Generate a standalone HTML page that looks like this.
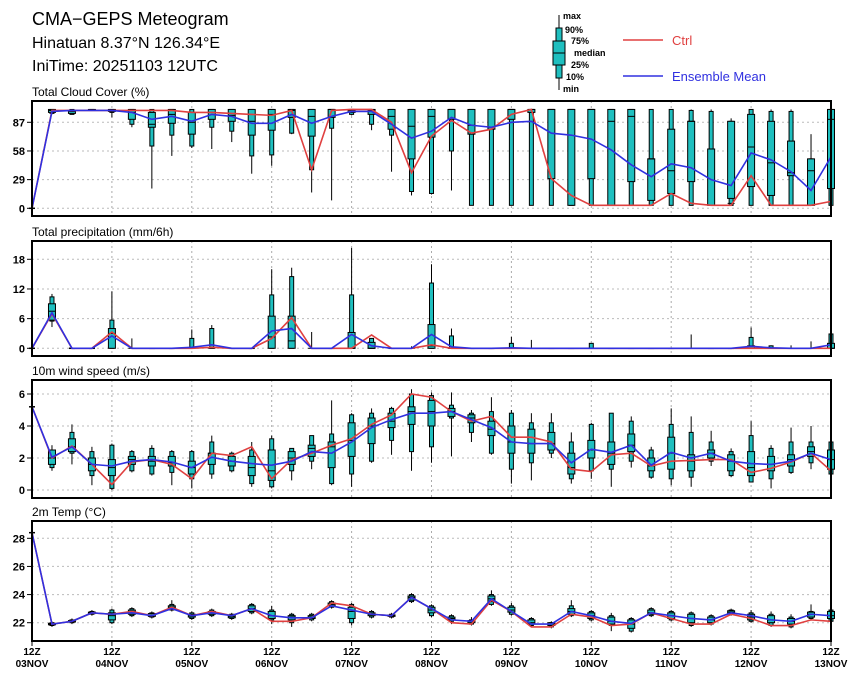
<!DOCTYPE html>
<html><head><meta charset="utf-8">
<style>
body{margin:0;background:#fff;}
svg text{font-family:"Liberation Sans",sans-serif;}
</style></head>
<body>
<svg id="c" width="860" height="678" viewBox="0 0 860 678" xmlns="http://www.w3.org/2000/svg">
<text x="32" y="25" font-size="18">CMA−GEPS Meteogram</text>
<text x="32" y="48" font-size="16">Hinatuan 8.37°N 126.34°E</text>
<text x="32" y="71" font-size="16">IniTime: 20251103 12UTC</text>
<g font-size="9" font-weight="bold">
<line x1="559" y1="15" x2="559" y2="90" stroke="#000"/>
<rect x="556" y="28" width="6" height="50" fill="#1fbfbf" stroke="#000"/>
<rect x="553" y="41" width="12" height="24" fill="#1fbfbf" stroke="#000"/>
<line x1="553" y1="53" x2="565" y2="53" stroke="#000"/>
<text x="563" y="19">max</text><text x="565" y="33">90%</text><text x="571" y="44">75%</text>
<text x="574" y="56">median</text><text x="571" y="68">25%</text><text x="566" y="80">10%</text><text x="563" y="92">min</text>
<line x1="623" y1="40" x2="663" y2="40" stroke="#e04040" stroke-width="1.5"/>
<text x="672" y="45" font-size="13" font-weight="normal" fill="#e04040">Ctrl</text>
<line x1="623" y1="76" x2="663" y2="76" stroke="#3030e0" stroke-width="1.5"/>
<text x="672" y="81" font-size="13" font-weight="normal" fill="#3030e0">Ensemble Mean</text>
</g>
</svg>
<script>
// Cloud cover (%)
const cMin=[0,95,95,99,92,82,20,53,61,60,67,35,43,75,16,8,94,79,37,13,14,18,3,3,3,3,3,3,3,3,3,3,3,3,3,3,3,3,3,3,3];
const cP10=[0,96,95,99,97,85,63,74,63,82,78,53,54,76,39,81,95,85,74,17,15,58,3,3,3,3,3,3,3,3,3,3,3,3,3,3,3,3,3,3,3];
const cP25=[0,97,96,99,98,90,82,86,75,90,88,74,79,92,73,92,97,95,80,50,72,90,75,80,90,97,30,3,30,3,27,8,15,27,3,10,22,13,33,3,20];
const cMed=[0,99,98,99,99,97,85,95,87,97,94,88,95,99,93,100,99,99,93,83,93,100,84,82,100,100,100,100,100,88,93,50,38,88,60,5,62,46,36,38,90];
const cP75=[0,100,99,100,100,100,97,100,97,100,100,100,100,100,100,100,100,100,100,100,100,100,100,100,100,100,100,100,100,100,100,50,80,88,60,88,95,88,68,50,100];
const cP90=[0,100,100,100,100,100,100,100,100,100,100,100,100,100,100,100,100,100,100,100,100,100,100,100,100,100,100,100,100,100,100,100,100,99,98,88,100,98,98,50,100];
const cMax=[0,100,100,100,100,100,100,100,100,100,100,100,100,100,100,100,100,100,100,100,100,100,100,100,100,100,100,100,100,100,100,100,100,100,100,91,100,100,100,75,100];
const cCtrl=[0,99,99,99,99,99,99,99,97,97,96,95,94,99,39,99,100,100,87,36,73,89,76,80,95,100,30,13,3,3,3,3,15,5,3,3,33,3,3,3,7];
const cEns=[0,98,99,99,99,97,90,93,88,95,93,86,86,95,86,93,98,98,85,71,78,92,84,82,87,88,76,74,70,59,44,32,45,41,29,23,56,49,37,18,52];
const cTicks=[0,29,58,87];
// Precipitation (mm/6h)
const pMin=[0,4.3,0,0,0,0,0,0,0,0,0,0,0,0,0,0,0,0,0,0,0,0,0,0,0,0,0,0,0,0,0,0,0,0,0,0,0,0,0,0,0];
const pP10=[0,5.5,0,0,0,0,0,0,0,0,0,0,0,0,0,0,0,0,0,0,0,0,0,0,0,0,0,0,0,0,0,0,0,0,0,0,0,0,0,0,0];
const pP25=[0,5.7,0,0,0,0,0,0,0,0,0,0,0,0,0,0,0,0,0,0,0,0,0,0,0,0,0,0,0,0,0,0,0,0,0,0,0,0,0,0,0];
const pMed=[0,7.5,0,0,3,0,0,0,0,0,0,0,2.3,1.5,0,0,0,0,0,0,0.5,0,0,0,0,0,0,0,0,0,0,0,0,0,0,0,0,0,0,0,0];
const pP75=[0,9,0,0,4,0,0,0,0,0,0,0,6.5,6.5,0,0,3.2,1.2,0,0,4.8,0,0,0,0,0,0,0,0,0,0,0,0,0,0,0,0.5,0,0,0,1];
const pP90=[0,10.4,0,0,5.7,0,0,0,2,4,0,0,10.8,14.5,0,0,10.8,2,0,0,13.2,2.5,0,0,1,0,0,0,1,0,0,0,0,0,0,0,2.2,0.5,0,0,2.9];
const pMax=[0,11,0,0,11.5,2,0,0,3.8,4.7,0,0,16,16.3,3.3,0,20.3,2,0,0.4,17,4,0,0,2.3,1.7,0,0,1,0,0,0,0,2.8,0,0,4.2,0.6,0.6,1.4,2.9];
const pCtrl=[0,7,0,0,3.3,0,0,0,0,0.2,0,0,2,6.2,0,0,0,2.7,0,0,0.7,0,0,0,0,0,0,0,0,0,0,0,0,0,0,0,0,0,0,0,0];
const pEns=[0,7.2,0,0,2.5,0,0,0,0.2,0.7,0,0,3.5,4,0,0,2.8,0.5,0,0,2.8,0.3,0,0,0.1,0,0,0,0,0,0,0,0,0,0,0,0.4,0.1,0,0,0.7];
const pTicks=[0,6,12,18];
// Wind (m/s)
const wMin=[5.2,1.2,1.6,0.3,0,1.1,0.9,0.3,0.1,0.7,1.1,0.2,0.1,0.6,1.3,0.3,0.2,1.7,2.2,1.2,1.7,2.1,3.0,2.2,0.4,0.6,2.0,0.4,0.7,0.2,1.4,0.7,0.3,0.2,1.5,0.8,0.5,0.1,1.0,1.3,1.0];
const wP10=[5.2,1.4,2.3,0.9,0.1,1.2,1.0,1.1,0.7,1.0,1.2,0.4,0.2,1.2,1.8,0.4,1.0,1.8,3.1,2.4,2.7,4.5,3.6,2.3,1.3,1.7,2.3,0.7,1.2,1.3,1.8,0.8,0.7,0.8,1.8,0.9,0.5,0.7,1.1,1.7,1.0];
const wP25=[5.2,1.6,2.4,1.2,0.9,1.6,1.5,1.5,1.0,1.6,1.5,0.9,0.6,1.6,2.1,1.4,2.1,2.9,3.9,4.1,4.0,4.6,4.2,3.4,2.3,2.3,2.5,1.0,2.0,1.6,2.4,1.2,1.3,1.2,2.0,1.2,0.9,1.2,1.5,2.1,1.3];
const wMed=[5.2,2.0,2.7,1.6,1.4,1.9,1.8,1.7,1.4,2.3,1.8,1.4,1.2,2.0,2.6,2.7,3.1,4.0,4.3,4.9,4.9,4.9,4.5,3.8,3.0,2.9,2.9,1.4,2.5,2.3,2.8,1.5,2.3,1.8,2.3,1.8,1.4,1.6,1.9,2.4,1.9];
const wP75=[5.2,2.5,3.2,2.0,1.9,2.1,2.1,2.1,1.8,2.3,2.1,2.1,2.5,2.4,2.8,3.0,4.2,4.5,4.8,5.2,5.6,5.1,4.7,4.3,4.0,3.8,3.6,2.3,3.1,3.0,3.5,2.0,3.3,2.2,2.5,2.2,2.4,2.1,2.2,2.7,2.5];
const wP90=[5.2,2.5,3.6,2.4,2.8,2.4,2.6,2.4,2.4,3.0,2.3,2.5,3.2,2.6,3.4,3.5,4.7,4.8,5.1,6.0,5.9,5.3,4.8,4.9,4.8,4.2,4.2,3.0,4.1,4.8,4.3,2.5,4.1,3.6,3.0,2.4,3.4,2.6,3.0,3.0,3.0];
const wMax=[5.2,2.8,4.1,2.7,2.9,2.5,2.8,2.5,2.5,3.4,2.4,3.0,3.4,2.6,3.4,5.6,4.8,5.1,5.2,6.3,6.1,6.1,5.0,5.8,5.0,4.8,4.8,3.6,4.2,4.8,4.6,2.7,5.1,4.6,3.7,2.6,4.3,2.8,3.9,4.0,3.0];
const wCtrl=[5.2,2.0,2.75,1.6,0.35,1.75,1.9,1.6,0.7,2.3,2.15,2.7,0.7,1.9,2.3,2.8,3.2,4.1,4.7,6.0,5.8,4.9,4.3,4.6,3.3,3.3,3.0,1.3,1.15,2.2,2.3,1.5,1.8,1.85,1.9,1.9,1.1,1.35,1.75,2.3,1.2];
const wEns=[5.2,2.05,2.7,1.6,1.5,1.8,1.9,1.75,1.4,2.05,1.8,1.65,1.55,1.8,2.4,2.3,3.0,3.9,4.4,4.8,4.8,4.9,4.4,3.9,3.0,2.9,2.9,1.7,2.55,2.35,2.8,1.55,2.35,2.0,2.3,1.8,1.65,1.6,1.8,2.3,1.9];
const wTicks=[0,2,4,6];
// 2m temperature (°C)
const tMin=[28.4,21.7,21.9,22.5,21.9,22.4,22.3,22.8,22.2,22.4,22.2,22.6,21.9,21.7,22.1,23.0,21.8,22.3,22.3,23.4,22.4,21.9,21.8,23.2,22.5,21.7,21.6,22.4,22.1,21.4,21.3,22.4,22.1,21.7,21.8,22.5,22.0,21.7,21.6,22.2,22.0];
const tP10=[28.4,21.8,22.0,22.6,22.0,22.5,22.4,22.9,22.3,22.5,22.3,22.7,22.2,22.0,22.2,23.1,22.0,22.4,22.4,23.5,22.5,22.1,21.9,23.3,22.6,21.8,21.7,22.5,22.2,21.8,21.4,22.5,22.2,21.8,21.9,22.6,22.1,21.8,21.7,22.3,22.1];
const tP25=[28.4,21.85,22.05,22.65,22.2,22.6,22.45,23.0,22.4,22.6,22.35,22.8,22.3,22.2,22.3,23.2,22.3,22.5,22.45,23.6,22.7,22.2,22.0,23.5,22.75,21.9,21.8,22.6,22.3,21.9,21.6,22.6,22.3,22.0,22.0,22.65,22.2,22.0,21.9,22.4,22.3];
const tMed=[28.4,21.9,22.1,22.7,22.5,22.8,22.55,23.1,22.5,22.7,22.45,23.0,22.5,22.4,22.4,23.3,22.8,22.6,22.5,23.8,22.9,22.3,22.1,23.7,22.9,22.0,21.9,22.8,22.5,22.1,21.9,22.7,22.5,22.3,22.2,22.75,22.4,22.2,22.1,22.6,22.5];
const tP75=[28.4,21.95,22.15,22.75,22.7,22.9,22.65,23.2,22.6,22.8,22.55,23.2,22.8,22.5,22.5,23.4,23.1,22.7,22.55,23.9,23.1,22.4,22.15,23.9,23.1,22.2,22.0,23.0,22.7,22.4,22.2,22.9,22.7,22.6,22.4,22.85,22.6,22.5,22.3,22.75,22.8];
const tP90=[28.4,22.0,22.2,22.8,22.9,23.0,22.7,23.3,22.7,22.9,22.6,23.3,22.9,22.6,22.6,23.5,23.3,22.8,22.6,24.0,23.2,22.5,22.2,24.0,23.2,22.3,22.0,23.2,22.8,22.5,22.3,23.0,22.8,22.7,22.5,22.9,22.7,22.6,22.4,22.8,22.9];
const tMax=[28.4,22.1,22.3,22.9,23.0,23.1,22.8,23.6,22.8,23.0,22.7,23.4,23.2,22.7,22.7,23.6,23.4,22.9,22.7,24.1,23.3,22.6,22.4,24.3,23.4,22.4,22.1,23.6,22.9,22.7,22.4,23.1,22.9,22.8,22.6,23.0,22.9,22.8,22.6,23.3,23.0];
const tCtrl=[28.4,21.9,22.1,22.7,22.6,22.8,22.5,23.1,22.5,22.8,22.5,23.0,22.1,22.1,22.35,23.4,23.2,22.6,22.5,23.8,23.0,22.0,21.9,23.6,22.8,21.7,21.7,22.6,22.4,21.8,21.9,22.7,22.3,21.9,21.9,22.6,22.3,21.8,21.8,22.2,22.1];
const tEns=[28.4,21.9,22.1,22.7,22.6,22.7,22.5,23.0,22.5,22.7,22.5,23.0,22.5,22.35,22.35,23.2,22.9,22.6,22.5,23.8,23.0,22.2,22.1,23.7,22.8,21.9,21.9,22.8,22.5,22.1,21.95,22.7,22.5,22.3,22.2,22.7,22.5,22.2,22.1,22.6,22.5];
const tTicks=[22,24,26,28];
const dayLabels=["03NOV","04NOV","05NOV","06NOV","07NOV","08NOV","09NOV","10NOV","11NOV","12NOV","13NOV"];

const NS="http://www.w3.org/2000/svg";
const svg=document.getElementById('c');
const X0=32,X1=831,NSTEP=40;
function xs(i){return X0+(X1-X0)*i/NSTEP;}
function mk(tag,attrs,parent){const e=document.createElementNS(NS,tag);for(const k in attrs)e.setAttribute(k,attrs[k]);(parent||svg).appendChild(e);return e;}

function panel(name,title,top,bot,v0,y0,v1,y1,ticks,q,ctrl,ens){
  const ys=v=>y0+(v-v0)*(y1-y0)/(v1-v0);
  const g=mk('g',{});
  
  
  const t=mk('text',{x:32,y:top-5,'font-size':12},g);t.textContent=title;
  
  
  for(let d=1;d<10;d++){const l=mk('line',{x1:xs(d*4),x2:xs(d*4),y1:top,y2:bot,stroke:'#aaa','stroke-dasharray':'2,3'},g);
    
    }
  ticks.forEach(v=>{const y=ys(v);
    const l=mk('line',{x1:X0,x2:X1,y1:y,y2:y,stroke:'#bbb','stroke-dasharray':'2,3'},g);
    
    
    mk('line',{x1:X0-5,x2:X0,y1:y,y2:y,stroke:'#000'},g);
    const tx=mk('text',{x:X0-7,y:y+4,'font-size':11,'font-weight':'bold','text-anchor':'end'},g);tx.textContent=v;
    
    });
  const [mn,p10,p25,md,p75,p90,mx]=q;
  for(let i=0;i<=NSTEP;i++){const x=xs(i);
    const b=mk('g',{},g);
    
    
    if(mx[i]-mn[i]<0.001){mk('line',{x1:x-3,x2:x+3,y1:ys(md[i]),y2:ys(md[i]),stroke:'#000','stroke-width':1.5},b);continue;}
    mk('line',{x1:x,x2:x,y1:ys(mn[i]),y2:ys(mx[i]),stroke:'#000'},b);
    if(p90[i]>p10[i])mk('rect',{x:x-2,y:ys(p90[i]),width:4,height:Math.max(0.5,ys(p10[i])-ys(p90[i])),fill:'#1fbfbf',stroke:'#000','stroke-width':1},b);
    if(p75[i]>p25[i])mk('rect',{x:x-3.5,y:ys(p75[i]),width:7,height:Math.max(0.5,ys(p25[i])-ys(p75[i])),fill:'#1fbfbf',stroke:'#000','stroke-width':1},b);
    mk('line',{x1:x-3.5,x2:x+3.5,y1:ys(md[i]),y2:ys(md[i]),stroke:'#000','stroke-width':1},b);
  }
  const line=(arr,col,nm)=>{const p=mk('polyline',{points:arr.map((v,i)=>xs(i)+','+ys(v)).join(' '),fill:'none',stroke:col,'stroke-width':1.6},g);
    
    };
  line(ctrl,'#e04040',name+'-ctrl-line');
  line(ens,'#3030e0',name+'-ensemble-mean-line');
  const fr=mk('rect',{x:X0,y:top,width:X1-X0,height:bot-top,fill:'none',stroke:'#000','stroke-width':2},g);
  
  
}
panel('cloud','Total Cloud Cover (%)',101,216,0,208.3,87,122.3,cTicks,[cMin,cP10,cP25,cMed,cP75,cP90,cMax],cCtrl,cEns);
panel('precip','Total precipitation (mm/6h)',241,356,0,348.3,18,259.3,pTicks,[pMin,pP10,pP25,pMed,pP75,pP90,pMax],pCtrl,pEns);
panel('wind','10m wind speed (m/s)',380,498,0,490,6,394,wTicks,[wMin,wP10,wP25,wMed,wP75,wP90,wMax],wCtrl,wEns);
panel('temp','2m Temp (°C)',521,641,22,622.7,28,538.3,tTicks,[tMin,tP10,tP25,tMed,tP75,tP90,tMax],tCtrl,tEns);
dayLabels.forEach((d,k)=>{const x=xs(k*4);
  mk('line',{x1:x,x2:x,y1:641,y2:646,stroke:'#000'});
  const a=mk('text',{x:x,y:655,'font-size':10,'font-weight':'bold','text-anchor':'middle'});a.textContent='12Z';
  
  
  const b=mk('text',{x:x,y:667,'font-size':10,'font-weight':'bold','text-anchor':'middle'});b.textContent=d;
  
  
});
</script>
</body></html>
